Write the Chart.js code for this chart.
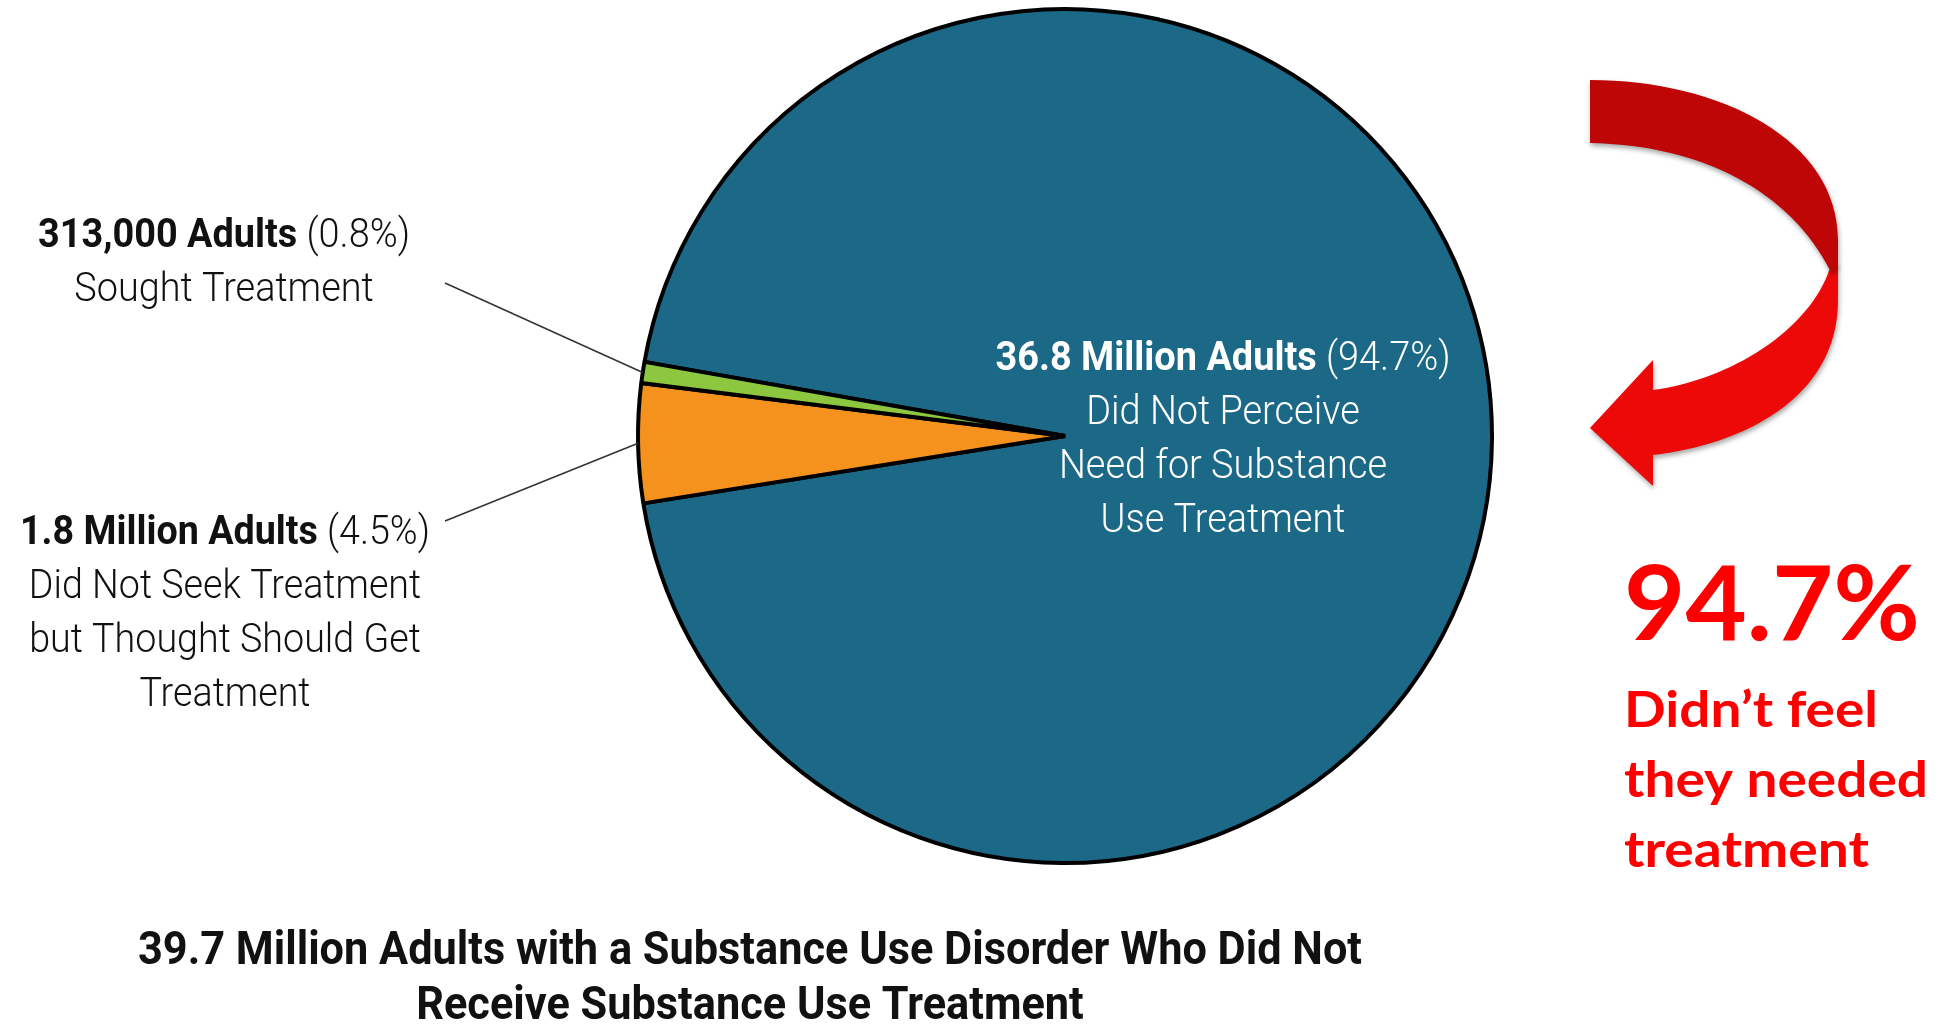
<!DOCTYPE html>
<html>
<head>
<meta charset="utf-8">
<title>Adults with a Substance Use Disorder Who Did Not Receive Treatment</title>
<script src="https://cdn.jsdelivr.net/npm/chart.js@4.4.0/dist/chart.umd.min.js"></script>
<style>
    html, body { margin: 0; padding: 0; background: #fff; }
    #wrap { position: relative; width: 1939px; height: 1029px; }
</style>
</head>
<body>
<div id="wrap"><canvas id="pie"></canvas></div>
<script>
// Chart data
const categories = [
    'Did Not Perceive Need for Substance Use Treatment',
    'Did Not Seek Treatment but Thought Should Get Treatment',
    'Sought Treatment'
];
const percentValues = [94.7, 4.5, 0.8];
const adultCounts = ['36.8 Million Adults', '1.8 Million Adults', '313,000 Adults'];
const labelLines = [
    ['Did Not Perceive', 'Need for Substance', 'Use Treatment'],
    ['Did Not Seek Treatment', 'but Thought Should Get', 'Treatment'],
    ['Sought Treatment']
];
const titleLines = [
    '39.7 Million Adults with a Substance Use Disorder Who Did Not',
    'Receive Substance Use Treatment'
];
const calloutValue = '94.7%';
const calloutLines = ['Didn\u2019t feel', 'they needed', 'treatment'];

// Styles
const sliceColors = ['#1c6887', '#f5921e', '#8dc63f'];
const labelFont = 'Roboto, "Liberation Sans", sans-serif';
const calloutFont = 'Lato, "Open Sans", sans-serif';
const labelBoxes = [
    { cx: 1223, y: 370, width: 455, color: '#ffffff' },
    { cx: 225, y: 544, width: 410, color: '#111111', leader: [445, 521] },
    { cx: 224, y: 247, width: 372, color: '#111111', leader: [445, 283] }
];

// Draw a line made of bold / light runs, centred on cx and squeezed by sx
function drawRuns(ctx, runs, cx, y, sx, size, color) {
    const widths = runs.map(r => {
        ctx.font = `${r.w} ${size}px ${labelFont}`;
        return ctx.measureText(r.t).width;
    });
    const total = widths.reduce((a, b) => a + b, 0);
    ctx.save();
    ctx.fillStyle = color;
    ctx.textAlign = 'left';
    ctx.textBaseline = 'alphabetic';
    ctx.translate(cx, y);
    ctx.scale(sx, 1);
    let x = -total / 2;
    runs.forEach((r, i) => {
        ctx.font = `${r.w} ${size}px ${labelFont}`;
        ctx.fillText(r.t, x, 0);
        x += widths[i];
    });
    ctx.restore();
}

function runsWidth(ctx, runs, size) {
    return runs.reduce((sum, r) => {
        ctx.font = `${r.w} ${size}px ${labelFont}`;
        return sum + ctx.measureText(r.t).width;
    }, 0);
}

// Left-aligned text fitted to a width
function drawFitted(ctx, text, x, y, font, width, color) {
    ctx.save();
    ctx.font = font;
    ctx.fillStyle = color;
    ctx.textAlign = 'left';
    ctx.textBaseline = 'alphabetic';
    const w = ctx.measureText(text).width;
    ctx.translate(x, y);
    ctx.scale(width / w, 1);
    ctx.fillText(text, 0, 0);
    ctx.restore();
}

function drawArrow(ctx) {
    ctx.save();
    ctx.shadowColor = 'rgba(0,0,0,0.35)';
    ctx.shadowBlur = 5;
    ctx.shadowOffsetX = 1;
    ctx.shadowOffsetY = 3;

    // lower, bright part with the head
    ctx.fillStyle = '#ee0909';
    ctx.beginPath();
    ctx.moveTo(1830, 268);
    ctx.bezierCurveTo(1810, 330, 1730, 380, 1653, 390);
    ctx.lineTo(1653, 360);
    ctx.lineTo(1590, 428);
    ctx.lineTo(1653, 486);
    ctx.lineTo(1653, 455);
    ctx.bezierCurveTo(1740, 445, 1838, 400, 1838, 300);
    ctx.lineTo(1838, 262);
    ctx.closePath();
    ctx.fill();

    // upper, darker part (the back of the ribbon)
    ctx.fillStyle = '#bf0606';
    ctx.beginPath();
    ctx.moveTo(1590, 80);
    ctx.bezierCurveTo(1720, 80, 1838, 140, 1838, 240);
    ctx.lineTo(1838, 266);
    ctx.lineTo(1831, 272);
    ctx.bezierCurveTo(1790, 190, 1700, 145, 1590, 143);
    ctx.closePath();
    ctx.fill();
    ctx.restore();
}

const annotations = {
    id: 'annotations',
    afterDraw(chart) {
        const ctx = chart.ctx;
        const arcs = chart.getDatasetMeta(0).data;

        // leader lines from the labels to the small slices
        ctx.save();
        ctx.strokeStyle = '#333';
        ctx.lineWidth = 1.5;
        labelBoxes.forEach((box, i) => {
            if (!box.leader) return;
            const arc = arcs[i];
            const mid = (arc.startAngle + arc.endAngle) / 2;
            ctx.beginPath();
            ctx.moveTo(box.leader[0], box.leader[1]);
            ctx.lineTo(arc.x + Math.cos(mid) * arc.outerRadius, arc.y + Math.sin(mid) * arc.outerRadius);
            ctx.stroke();
        });
        ctx.restore();

        // slice labels
        const size = 40;
        const lineHeight = 54;
        labelBoxes.forEach((box, i) => {
            const head = [
                { t: adultCounts[i], w: 700 },
                { t: ` (${percentValues[i].toFixed(1)}%)`, w: 300 }
            ];
            const sx = box.width / runsWidth(ctx, head, size);
            drawRuns(ctx, head, box.cx, box.y, sx, size, box.color);
            labelLines[i].forEach((line, j) => {
                drawRuns(ctx, [{ t: line, w: 300 }], box.cx, box.y + lineHeight * (j + 1), sx, size, box.color);
            });
        });

        // title under the pie
        const tSize = 46;
        const tRuns = [{ t: titleLines[0], w: 700 }];
        const tsx = 1224 / runsWidth(ctx, tRuns, tSize);
        titleLines.forEach((line, j) => {
            drawRuns(ctx, [{ t: line, w: 700 }], 750, 964 + 55 * j, tsx, tSize, '#111');
        });

        // red callout
        drawArrow(ctx);
        drawFitted(ctx, calloutValue, 1624, 640, `700 104px ${calloutFont}`, 296, '#ff0000');
        const calloutWidths = [254, 304, 245];
        calloutLines.forEach((line, j) => {
            drawFitted(ctx, line, 1624, 727 + 70 * j, `700 49px ${calloutFont}`, calloutWidths[j], '#ff0000');
        });
    }
};

new Chart(document.getElementById('pie'), {
    type: 'pie',
    data: {
        labels: categories,
        datasets: [{
            data: percentValues,
            backgroundColor: sliceColors,
            borderColor: '#000',
            borderWidth: 4
        }]
    },
    options: {
        responsive: true,
        maintainAspectRatio: false,
        animation: false,
        rotation: 280,
        radius: 427,
        layout: { padding: { left: 635, right: 444, top: 6, bottom: 163 } },
        plugins: {
            legend: { display: false },
            tooltip: { enabled: false }
        },
        events: []
    },
    plugins: [annotations]
});
</script>
</body>
</html>
